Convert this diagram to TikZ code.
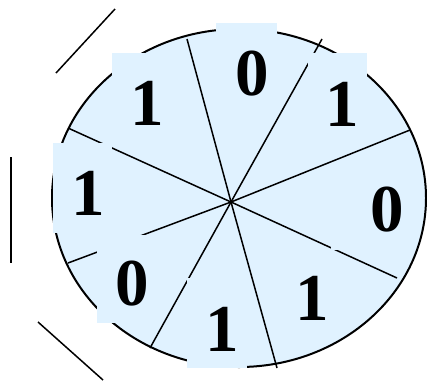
\documentclass[tikz,border=0pt]{standalone}
\usepackage{fontspec}
\setmainfont{Liberation Serif}
\definecolor{diskblue}{RGB}{224,242,255}
\begin{document}
\begin{tikzpicture}[x=1pt,y=-1pt,
  rim/.style={line width=2pt,fill=diskblue},
  spoke/.style={line width=1.5pt},
  cover/.style={fill=diskblue,draw=none},
  digit/.style={inner sep=0pt,font=\fontsize{67}{67}\selectfont\bfseries},
  stroke/.style={line width=1.5pt}]
\useasboundingbox (0,0) rectangle (427,381);
% disk
\draw[rim] (239,198) ellipse [x radius=187, y radius=169];
% spokes
\coordinate (c) at (231,202);
\coordinate (s1) at (187,39);
\coordinate (s2) at (322,39);
\coordinate (s3) at (410,130);
\coordinate (s4) at (397,278);
\coordinate (s5) at (277,368);
\coordinate (s6) at (150,348);
\coordinate (s7) at (68,263);
\coordinate (s8) at (68,128);
\foreach \s in {s1,s2,s3,s4,s5,s6,s7,s8} \draw[spoke] (c) -- (\s);
% label backgrounds
\fill[cover] (216,23) rectangle (277,100);
\fill[cover] (112,53) rectangle (174,135);
\fill[cover] (308,53) rectangle (367,138);
\fill[cover] (53,143) rectangle (112,233);
\fill[cover] (97,235) rectangle (158,323);
\fill[cover] (187,278) rectangle (247,368);
\fill[cover] (331,165) rectangle (405,250);
% side strokes
\coordinate (a1) at (115,9);
\coordinate (a2) at (56,73);
\coordinate (b1) at (11,157);
\coordinate (b2) at (11,263);
\coordinate (c1) at (38,322);
\coordinate (c2) at (103,380);
\draw[stroke] (a1) -- (a2);
\draw[stroke] (b1) -- (b2);
\draw[stroke] (c1) -- (c2);
% digits
\node[digit] (d0) at (252,74) {0};
\node[digit] (d1) at (342,104) {1};
\node[digit] (d2) at (387,210) {0};
\node[digit] (d3) at (312,298) {1};
\node[digit] (d4) at (222,329) {1};
\node[digit] (d5) at (132,284) {0};
\node[digit] (d6) at (88,193) {1};
\node[digit] (d7) at (147,103) {1};
\end{tikzpicture}
\end{document}
